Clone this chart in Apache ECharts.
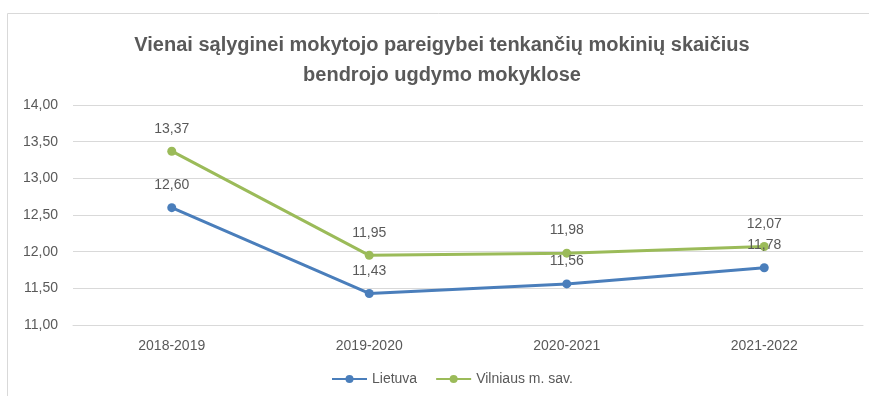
<!DOCTYPE html>
<html>
<head>
<meta charset="utf-8">
<script src="https://cdn.jsdelivr.net/npm/echarts@6/dist/echarts.min.js"></script>
<style>
  html, body { margin: 0; padding: 0; background: #fff; }
  #chart { width: 869px; height: 396px; }
</style>
</head>
<body>
<div id="chart"></div>
<script>
// School years on the category axis
const years = ['2018-2019', '2019-2020', '2020-2021', '2021-2022'];
// Students per teacher position
const lietuva = [12.60, 11.43, 11.56, 11.78];
const vilnius = [13.37, 11.95, 11.98, 12.07];
// Value axis range
const yMin = 11, yMax = 14, yStep = 0.5;

const fmt = v => v.toFixed(2).replace('.', ',');
const textColor = '#595959';
const font = 'Liberation Sans';

const chart = echarts.init(document.getElementById('chart'));
chart.setOption({
  animation: false,
  textStyle: { fontFamily: font },
  graphic: [{
    type: 'rect',
    shape: { x: 7.5, y: 13.5, width: 900, height: 500 },
    style: { fill: 'none', stroke: '#d9d9d9', lineWidth: 1 },
    silent: true
  }],
  title: {
    text: 'Vienai sąlyginei mokytojo pareigybei tenkančių mokinių skaičius\nbendrojo ugdymo mokyklose',
    left: 437, top: 25, textAlign: 'center',
    textStyle: { fontSize: 20, fontWeight: 'bold', color: textColor, lineHeight: 30, fontFamily: font }
  },
  legend: {
    top: 367, left: 326,
    itemWidth: 35, itemHeight: 10, itemGap: 18,
    textStyle: { fontSize: 14, color: textColor },
    data: ['Lietuva', 'Vilniaus m. sav.']
  },
  grid: { left: 73, right: 6, top: 105, bottom: 71 },
  xAxis: {
    type: 'category', data: years, boundaryGap: true,
    axisLine: { lineStyle: { color: '#d9d9d9' } },
    axisTick: { show: false },
    axisLabel: { color: textColor, fontSize: 14, margin: 14 }
  },
  yAxis: {
    type: 'value', min: yMin, max: yMax, interval: yStep,
    axisLine: { show: false }, axisTick: { show: false },
    splitLine: { lineStyle: { color: '#d9d9d9' } },
    axisLabel: { color: textColor, fontSize: 14, margin: 15, formatter: fmt }
  },
  series: [
    {
      name: 'Lietuva', type: 'line', data: lietuva,
      symbol: 'circle', symbolSize: 9,
      lineStyle: { width: 3, color: '#4a7ebb' },
      itemStyle: { color: '#4a7ebb' },
      label: { show: true, position: 'top', distance: 11, color: textColor, fontSize: 14, formatter: p => fmt(p.value) }
    },
    {
      name: 'Vilniaus m. sav.', type: 'line', data: vilnius,
      symbol: 'circle', symbolSize: 9,
      lineStyle: { width: 3, color: '#9bbb59' },
      itemStyle: { color: '#9bbb59' },
      label: { show: true, position: 'top', distance: 11, color: textColor, fontSize: 14, formatter: p => fmt(p.value) }
    }
  ]
});
</script>
</body>
</html>
